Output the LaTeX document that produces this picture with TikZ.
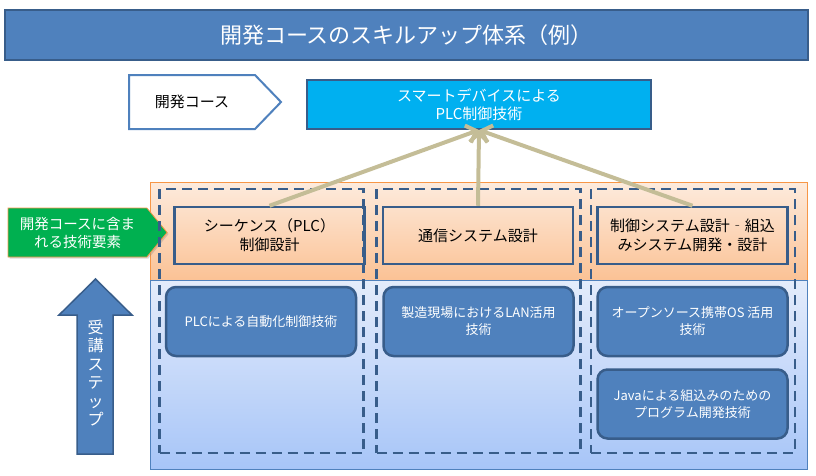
\documentclass[tikz,border=0pt]{standalone}
\usepackage{fontspec}
\setmainfont{Noto Sans CJK JP}
\usepackage{xcolor}
\definecolor{skMid}{HTML}{4F81BD}
\definecolor{skDark}{HTML}{385D8A}
\definecolor{skCyan}{HTML}{00B0F0}
\definecolor{skTan}{HTML}{C4BD97}
\definecolor{skGreen}{HTML}{00B050}
\definecolor{skOrange}{HTML}{F79646}
\definecolor{skPeachTop}{HTML}{FDEBDD}
\definecolor{skPeachBot}{HTML}{FBC295}
\definecolor{skSkyTop}{HTML}{E4ECFB}
\definecolor{skSkyBot}{HTML}{A7C5F8}
\usepackage{tikz}
\usetikzlibrary{
    shapes.symbols,
    arrows.meta,
    positioning,
    shadows
}

\begin{document}
\begin{tikzpicture}[
    x=1pt, y=-1pt,
    titleBar/.style={
        rectangle, draw=skDark, line width=2pt,
        fill=skMid, text=white,
        font=\fontsize{22}{26}\selectfont,
        minimum width=803pt, minimum height=50pt, inner sep=0pt
    },
    courseTag/.style={
        signal, signal to=east, signal pointer angle=92,
        draw=skMid, line width=2pt, fill=white, text=black,
        font=\fontsize{15}{18}\selectfont,
        minimum width=152pt, minimum height=54pt, inner sep=0pt
    },
    targetBox/.style={
        rectangle, draw=skDark, line width=2pt,
        fill=skCyan, text=white, align=center,
        font=\fontsize{15}{18}\selectfont,
        minimum width=344pt, minimum height=49pt, inner sep=0pt
    },
    elemTag/.style={
        signal, signal to=east, signal pointer angle=101,
        draw=skOrange, line width=0.8pt, fill=skGreen, text=white, align=center,
        font=\fontsize{14.5}{18}\selectfont,
        minimum width=159pt, minimum height=49pt, inner sep=0pt,
        drop shadow={opacity=0.3, shadow xshift=1.5pt, shadow yshift=-1.5pt}
    },
    orangePanel/.style={
        rectangle, draw=skOrange, line width=0.8pt,
        top color=skPeachTop, bottom color=skPeachBot,
        minimum width=657pt, minimum height=98pt, inner sep=0pt
    },
    bluePanel/.style={
        rectangle, draw=skMid, line width=0.8pt,
        top color=skSkyTop, bottom color=skSkyBot,
        minimum width=657pt, minimum height=189pt, inner sep=0pt
    },
    colFrame/.style={
        rectangle, draw=skDark, line width=2.5pt,
        dash pattern=on 10pt off 6pt,
        minimum width=204pt, minimum height=264pt, inner sep=0pt
    },
    elemBox/.style={
        rectangle, draw=skDark, line width=2.5pt, align=center,
        font=\fontsize{15}{19}\selectfont,
        minimum width=190pt, minimum height=57pt, inner sep=0pt
    },
    techBox/.style={
        rectangle, rounded corners=10pt,
        draw=skDark, line width=2.5pt, fill=skMid,
        text=white, align=center,
        font=\fontsize{13}{17}\selectfont,
        minimum width=190pt, minimum height=69pt, inner sep=0pt
    },
    stepText/.style={
        text=white, align=center, inner sep=0pt,
        font=\fontsize{16}{18.5}\selectfont
    },
    feedArrow/.style={
        -{Straight Barb[length=9pt, width=18pt]}, line width=4pt, draw=skTan
    }
]
    \useasboundingbox (0,0) rectangle (816,475);

    % Header
    \node[titleBar] (title) at (406.5, 35) {開発コースのスキルアップ体系（例）};
    \node[courseTag] (course) at (192, 102) {開発コース};
    \node[targetBox] (target) at (479, 104.5) {スマートデバイスによる\\PLC制御技術};

    % Panels
    \node[orangePanel] (elemBand) at (478.5, 231) {};
    \node[bluePanel] (techBand) at (478.5, 374.5) {};

    \node[elemTag] (elemLabel) at (77.5, 232.5) {開発コースに含ま\\れる技術要素};

    % Step arrow
    \draw[draw=skDark, line width=1.5pt, fill=skMid, line join=miter]
        (95.5, 279) -- (132, 315) -- (113, 315) -- (113, 454)
        -- (77, 454) -- (77, 315) -- (59, 315) -- cycle;
    \node[stepText] (steps) at (95.5, 373) {受\\講\\ス\\テ\\ッ\\プ};

    % Columns
    \node[colFrame] (colA) at (261.5, 321) {};
    \node[colFrame] (colB) at (478.5, 321) {};
    \node[colFrame] (colC) at (693, 321) {};

    \node[elemBox] (plc) at (269.5, 235.5) {シーケンス（PLC）\\制御設計};
    \node[elemBox] (comm) at (478, 235.5) {通信システム設計};
    \node[elemBox] (embed) at (692.5, 235.5) {制御システム設計‐組込\\みシステム開発・設計};

    \node[techBox] (plcTech) at (261, 321.5) {PLCによる自動化制御技術};
    \node[techBox] (lanTech) at (478.5, 321.5) {製造現場におけるLAN活用\\技術};
    \node[techBox] (osTech) at (692.5, 321.5) {オープンソース携帯OS 活用\\技術};
    \node[techBox] (javaTech) at (692.5, 404) {Javaによる組込みのための\\プログラム開発技術};

    % Feeds
    \draw[feedArrow] (plc.north) -- (target.south);
    \draw[feedArrow] (comm.north) -- (target.south);
    \draw[feedArrow] (embed.north) -- (target.south);

\end{tikzpicture}
\end{document}
